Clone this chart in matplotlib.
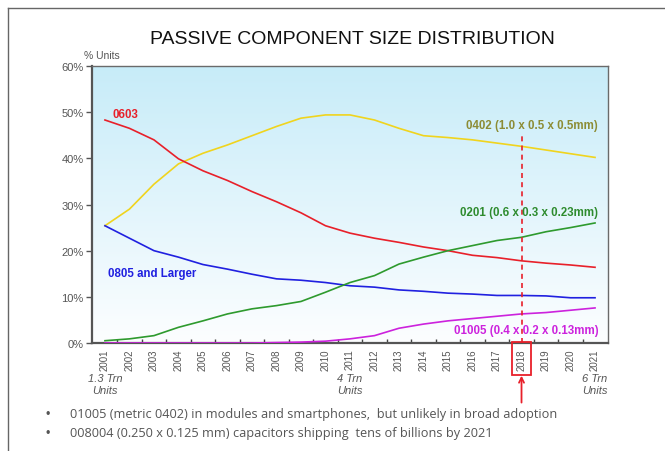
import numpy as np
import matplotlib
matplotlib.use("Agg")
import matplotlib.pyplot as plt
from matplotlib.lines import Line2D
from matplotlib.patches import Rectangle
from matplotlib.ticker import FixedLocator

plt.rcParams['font.family'] = ['Liberation Sans', 'DejaVu Sans']

years = list(range(2001, 2022))

# share of units (%) per case size
size_0402 = [25.4, 29.0, 34.4, 38.8, 41.1, 42.9, 44.9, 46.9, 48.7, 49.4, 49.4,
             48.3, 46.5, 44.9, 44.5, 44.0, 43.3, 42.6, 41.8, 41.0, 40.2]
size_0603 = [48.3, 46.5, 44.0, 39.9, 37.3, 35.2, 32.8, 30.6, 28.2, 25.4, 23.8,
             22.7, 21.8, 20.8, 20.0, 19.0, 18.5, 17.8, 17.3, 16.9, 16.4]
size_0805 = [25.4, 22.7, 20.0, 18.6, 17.0, 16.0, 14.9, 13.9, 13.6, 13.1, 12.4,
             12.1, 11.5, 11.2, 10.8, 10.6, 10.3, 10.3, 10.2, 9.8, 9.8]
size_0201 = [0.5, 0.9, 1.6, 3.4, 4.8, 6.3, 7.4, 8.1, 9.0, 11.0, 13.1,
             14.6, 17.1, 18.6, 20.0, 21.1, 22.2, 22.9, 24.1, 25.0, 26.0]
size_01005 = [0.0, 0.0, 0.0, 0.0, 0.0, 0.0, 0.0, 0.1, 0.2, 0.4, 0.9,
              1.6, 3.2, 4.1, 4.8, 5.3, 5.8, 6.3, 6.6, 7.1, 7.6]

y_ticks = [0, 10, 20, 30, 40, 50, 60]
y_labels = ["0%", "10%", "20%", "30%", "40%", "50%", "60%"]
focus_year = 2018

units_notes = [(2001, "1.3 Trn\nUnits"), (2011, "4 Trn\nUnits"), (2021, "6 Trn\nUnits")]
bullets = [
    "01005 (metric 0402) in modules and smartphones,  but unlikely in broad adoption",
    "008004 (0.250 x 0.125 mm) capacitors shipping  tens of billions by 2021",
]

fig = plt.figure(figsize=(6.65, 4.52), dpi=100)
ax = fig.add_axes([0.1383, 0.2389, 0.776, 0.6129])

# light blue to white gradient behind the lines
grad = np.linspace(0, 1, 256).reshape(-1, 1)
top = np.array([0.78, 0.925, 0.975])
bot = np.array([0.99, 0.995, 1.0])
img = top * (1 - grad[..., None]) + bot * grad[..., None]
img = img.reshape(256, 1, 3)
ax.imshow(img, extent=[0, 1, 0, 1], transform=ax.transAxes, aspect='auto', zorder=0)

lw = 1.2
ax.plot(years, size_0402, color='#F0D41E', lw=lw, zorder=3)
ax.plot(years, size_0603, color='#E8202A', lw=lw, zorder=3)
ax.plot(years, size_0805, color='#2020E0', lw=lw, zorder=3)
ax.plot(years, size_0201, color='#2E9A2E', lw=lw, zorder=3)
ax.plot(years, size_01005, color='#CC22DD', lw=lw, zorder=3)

ax.set_xlim(2000.47, 2021.53)
ax.set_ylim(0, 60)

# series labels
lab = dict(fontsize=8.3, fontweight='bold', va='center', zorder=5)
ax.text(2001.3, 49.6, "0603", color='#E8202A', ha='left', **lab)
ax.text(2021.12, 47.2, "0402 (1.0 x 0.5 x 0.5mm)", color='#8C8C34', ha='right', **lab)
ax.text(2021.12, 28.4, "0201 (0.6 x 0.3 x 0.23mm)", color='#2E8B2E', ha='right', **lab)
ax.text(2001.12, 15.2, "0805 and Larger", color='#2020E0', ha='left', **lab)
ax.text(2021.16, 2.8, "01005 (0.4 x 0.2 x 0.13mm)", color='#CC22DD', ha='right', **lab)

# marker for the current year
ax.axvline(focus_year, ymin=0, ymax=45.3 / 60, color='#E8202A', lw=1.2,
           ls=(0, (3, 2.5)), zorder=4)
box = Rectangle((focus_year - 0.39, -0.116), 0.78, 0.12,
                transform=ax.get_xaxis_transform(), fill=False,
                edgecolor='#E8202A', lw=1.3, clip_on=False, zorder=6)
ax.add_patch(box)
ax.annotate("", xy=(focus_year, -0.118), xytext=(focus_year, -0.215),
            xycoords=ax.get_xaxis_transform(), textcoords=ax.get_xaxis_transform(),
            arrowprops=dict(arrowstyle='->', color='#E8202A', lw=1.3,
                            mutation_scale=9, shrinkA=0, shrinkB=0))

# axes styling
for s in ['left', 'bottom']:
    ax.spines[s].set_color('#555555')
    ax.spines[s].set_linewidth(1.6)
for s in ['top', 'right']:
    ax.spines[s].set_color('#6a6a6a')
    ax.spines[s].set_linewidth(1.0)

ax.set_yticks(y_ticks)
ax.set_yticklabels(y_labels, fontsize=8, color='#555555')
ax.tick_params(axis='y', direction='out', length=4, width=1, color='#555555', pad=2)

ax.set_xticks(years)
ax.set_xticklabels([str(y) for y in years], rotation=90, fontsize=7,
                   color='#555555')
ax.tick_params(axis='x', which='major', length=0, pad=4)
ax.xaxis.set_minor_locator(FixedLocator([y + 0.5 for y in years[:-1]]))
ax.tick_params(axis='x', which='minor', direction='in', length=3, width=1,
               color='#444444')

ax.text(-0.015, 1.04, "% Units", transform=ax.transAxes, fontsize=7.5,
        color='#555555', ha='left', va='center')

for yr, txt in units_notes:
    ax.text(yr, -0.11, txt, transform=ax.get_xaxis_transform(), fontsize=8,
            style='italic', color='#555555', ha='center', va='top',
            linespacing=1.15)

fig.text(352 / 665, 1 - 40 / 452, "PASSIVE COMPONENT SIZE DISTRIBUTION",
         fontsize=14, color='#111111', ha='center', va='center')

for i, txt in enumerate(bullets):
    yy = 1 - (415 + 19 * i) / 452
    fig.text(48 / 665, yy, "\u2022", fontsize=9, color='#555555',
             ha='center', va='center')
    fig.text(70 / 665, yy, txt, fontsize=9.2, color='#555555',
             family=['Open Sans', 'DejaVu Sans'], ha='left', va='center')

# slide border
fig.add_artist(Line2D([8 / 665, 8 / 665], [0, 1 - 9 / 452], color='#666666',
                      lw=1.0, transform=fig.transFigure))
fig.add_artist(Line2D([8 / 665, 1], [1 - 9 / 452, 1 - 9 / 452], color='#666666',
                      lw=1.0, transform=fig.transFigure))

fig.savefig("out.png", dpi=100, facecolor='white')
